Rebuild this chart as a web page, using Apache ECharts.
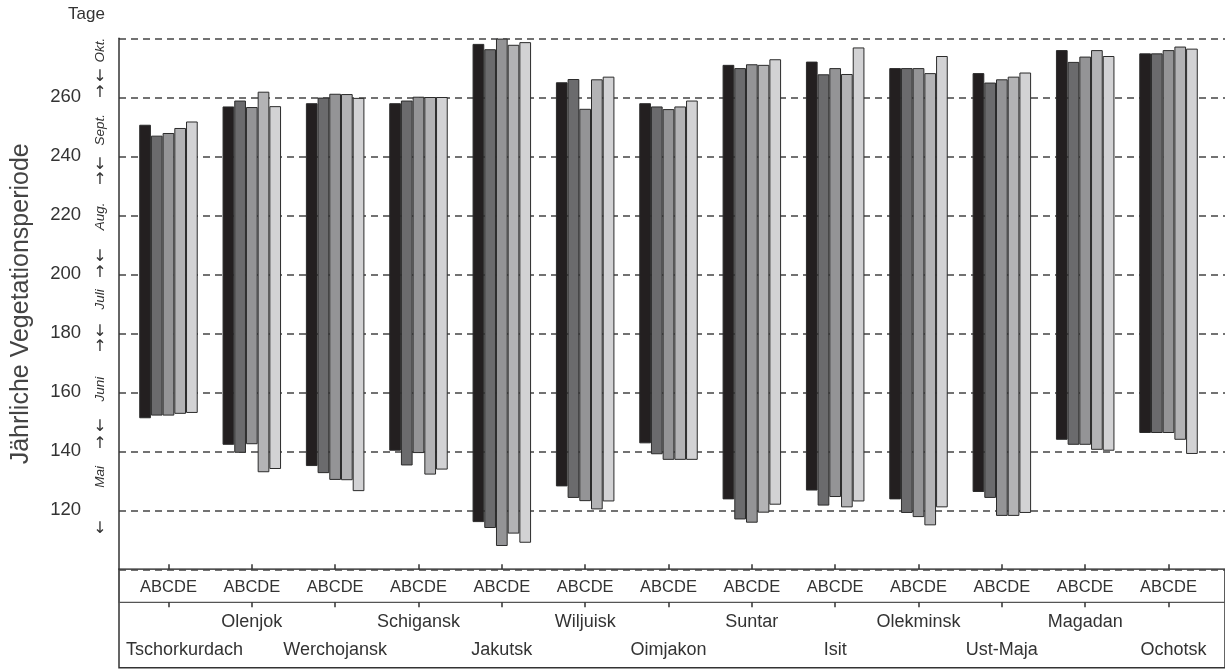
<!DOCTYPE html>
<html>
<head>
<meta charset="utf-8">
<script src="https://cdn.jsdelivr.net/npm/echarts@6/dist/echarts.min.js"></script>
<style>
html,body{margin:0;padding:0;background:#fff;}
#chart{width:1225px;height:670px;}
</style>
</head>
<body>
<div id="chart"></div>
<script>
// ---- data ----
const stations = ['Tschorkurdach','Olenjok','Werchojansk','Schigansk','Jakutsk','Wiljuisk','Oimjakon','Suntar','Isit','Olekminsk','Ust-Maja','Magadan','Ochotsk'];
const seriesNames = ['A','B','C','D','E'];
const startA = [151.2, 142.2, 135.0, 140.2, 116.0, 128.1, 142.7, 123.7, 126.7, 123.7, 126.2, 143.9, 146.2];
const endA   = [250.7, 256.9, 258.0, 258.0, 278.1, 265.1, 258.0, 271.0, 272.1, 269.9, 268.2, 276.0, 274.9];
const startB = [152.1, 139.5, 132.6, 135.2, 114.0, 124.2, 139.0, 116.9, 121.6, 119.1, 124.2, 142.2, 146.2];
const endB   = [247.0, 258.9, 259.9, 258.9, 276.3, 266.2, 256.9, 269.9, 267.8, 269.9, 265.0, 272.0, 274.9];
const startC = [152.1, 142.4, 130.3, 139.4, 107.9, 123.1, 137.1, 115.8, 124.5, 117.7, 118.1, 142.2, 146.2];
const endC   = [247.9, 256.7, 261.2, 260.2, 279.9, 256.1, 256.0, 271.2, 269.9, 269.9, 266.1, 273.8, 276.0];
const startD = [152.7, 132.9, 130.2, 132.1, 112.1, 120.3, 137.1, 119.2, 121.0, 114.9, 118.1, 140.5, 143.9];
const endD   = [249.6, 261.9, 261.1, 260.1, 277.8, 266.1, 256.9, 271.0, 267.9, 268.2, 267.0, 276.0, 277.2];
const startE = [153.0, 134.0, 126.5, 133.8, 109.0, 123.0, 137.1, 121.9, 123.0, 121.0, 119.1, 140.2, 139.1];
const endE   = [251.8, 257.0, 259.8, 260.1, 278.7, 267.0, 258.9, 272.9, 276.9, 274.0, 268.4, 274.0, 276.5];
const groupLabel = 'ABCDE';
const yMin = 100, yMax = 280, yInterval = 20;
// month annotations on the y scale (day of year)
const monthNames = ['Okt.','Sept.','Aug.','Juli','Juni','Mai'];
const monthPos   = [276, 249, 219.6, 191.5, 161.1, 131.3];
const arrowUpPos   = [261.5, 232.1, 200.6, 175.3, 142.5];
const arrowDownPos = [266.9, 237.2, 206.0, 180.4, 148.3, 113.8];

// ---- style ----
const colors = ['#231f20','#6b6b6d','#949496','#b3b3b5','#d2d2d4'];
const starts = [startA,startB,startC,startD,startE];
const ends = [endA,endB,endC,endD,endE];
const FONT = '"Liberation Sans", Arial, sans-serif';
// extra left padding (px) for station names that are nudged right inside the box
const nameShift = {0: 32, 12: 10};

const series = [];
seriesNames.forEach((n, k) => {
  series.push({
    name: n + '_base', type: 'bar', stack: 's' + n, xAxisIndex: 0, yAxisIndex: 1,
    barWidth: 11.7, barGap: '0%', silent: true,
    itemStyle: {color: 'rgba(0,0,0,0)', borderWidth: 0},
    data: starts[k]
  });
  series.push({
    name: n, type: 'bar', stack: 's' + n, xAxisIndex: 0, yAxisIndex: 1,
    barWidth: 11.7, barGap: '0%',
    itemStyle: {color: colors[k], borderColor: '#2b2b2b', borderWidth: 1},
    data: ends[k].map((e, i) => +(e - starts[k][i]).toFixed(2))
  });
});

const richName = {
  n: {fontSize: 18, color: '#333', fontFamily: FONT, lineHeight: 28},
  s0: {fontSize: 18, color: '#333', fontFamily: FONT, lineHeight: 28, padding: [0, 0, 0, nameShift[0]]},
  s12: {fontSize: 18, color: '#333', fontFamily: FONT, lineHeight: 28, padding: [0, 0, 0, nameShift[12]]}
};

const chart = echarts.init(document.getElementById('chart'), null, {renderer: 'canvas'});
const option = {
  animation: false,
  backgroundColor: '#fff',
  title: {text: 'Tage', left: 68, top: 6, padding: 0,
    textStyle: {fontSize: 17, fontWeight: 'normal', color: '#333', fontFamily: FONT}},
  grid: [
    {left: 119, right: 0, top: 38.3, bottom: 100.7},
    {left: 126.8, right: 14.8, top: 38.3, bottom: 100.7},
    {left: 119, right: -10, top: 569.3, bottom: 2.3, show: true, borderColor: '#333', borderWidth: 1.5, backgroundColor: 'transparent'},
    {left: 119, right: -10, top: 569.3, height: 33, show: true, borderColor: '#555', borderWidth: 1.2, backgroundColor: 'transparent'}
  ],
  xAxis: [
    {gridIndex: 1, type: 'category', data: stations, position: 'bottom',
      axisLine: {show: false},
      axisTick: {show: true, inside: true, alignWithLabel: true, length: 5, lineStyle: {color: '#333', width: 1.5}},
      axisLabel: {interval: 0, margin: 10, formatter: () => groupLabel, fontSize: 16.5, color: '#333', fontFamily: FONT}
    },
    {gridIndex: 1, type: 'category', data: stations, position: 'bottom', offset: 33,
      axisLine: {show: false},
      axisTick: {show: true, inside: false, alignWithLabel: true, length: 5, lineStyle: {color: '#333', width: 1.5}},
      axisLabel: {interval: 0, margin: 5.7, fontSize: 18, color: '#333', fontFamily: FONT, lineHeight: 28,
        rich: richName,
        formatter: (v, i) => {
          const key = nameShift[i] !== undefined ? 's' + i : 'n';
          const t = '{' + key + '|' + v + '}';
          return i % 2 === 0 ? '{n| }\n' + t : t + '\n{n| }';
        }}
    },
    {gridIndex: 0, type: 'value', show: false},
    {gridIndex: 2, type: 'value', show: false},
    {gridIndex: 3, type: 'value', show: false}
  ],
  yAxis: [
    {gridIndex: 0, type: 'value', min: yMin, max: yMax, interval: yInterval,
      name: 'Jährliche Vegetationsperiode', nameLocation: 'middle', nameGap: 85,
      nameTextStyle: {fontSize: 25, color: '#444', fontFamily: FONT},
      axisLine: {show: true, lineStyle: {color: '#333', width: 1.5}},
      axisTick: {show: false},
      axisLabel: {margin: 38, fontSize: 18.5, color: '#333', fontFamily: FONT,
        formatter: v => (v === yMin || v === yMax) ? '' : String(v)},
      splitLine: {show: true, lineStyle: {type: [7, 5], color: '#444', width: 1.5}}
    },
    {gridIndex: 1, type: 'value', min: yMin, max: yMax, interval: yInterval, show: false, splitLine: {show: false}},
    {gridIndex: 2, type: 'value', show: false},
    {gridIndex: 3, type: 'value', show: false}
  ],
  series: series
};
chart.setOption(option);

// month annotations placed through the y-axis scale
const annX = 100;
const graphics = [];
monthNames.forEach((m, i) => {
  const py = chart.convertToPixel({yAxisIndex: 0}, monthPos[i]);
  graphics.push({type: 'text', x: annX, y: py, rotation: Math.PI / 2,
    style: {text: m, font: 'italic 13.5px ' + FONT, fill: '#333', textAlign: 'center', textVerticalAlign: 'middle'}});
});
arrowUpPos.forEach(v => {
  const py = chart.convertToPixel({yAxisIndex: 0}, v);
  graphics.push({type: 'text', x: annX, y: py,
    style: {text: '↑', font: '16px "DejaVu Sans"', fill: '#333', textAlign: 'center', textVerticalAlign: 'middle'}});
});
arrowDownPos.forEach(v => {
  const py = chart.convertToPixel({yAxisIndex: 0}, v);
  graphics.push({type: 'text', x: annX, y: py,
    style: {text: '↓', font: '16px "DejaVu Sans"', fill: '#333', textAlign: 'center', textVerticalAlign: 'middle'}});
});
chart.setOption({graphic: graphics});
</script>
</body>
</html>
